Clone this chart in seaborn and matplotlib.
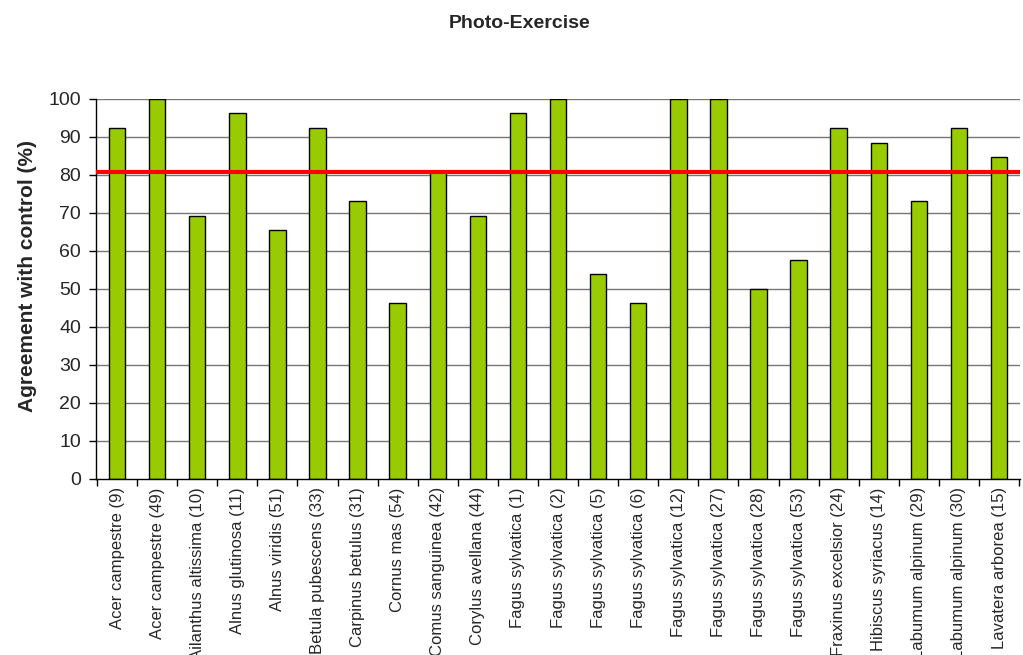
import matplotlib
matplotlib.use("Agg")
import matplotlib.pyplot as plt
import seaborn as sns
import pandas as pd

species = [
    "Acer campestre (9)", "Acer campestre (49)", "Ailanthus altissima (10)",
    "Alnus glutinosa (11)", "Alnus viridis (51)", "Betula pubescens (33)",
    "Carpinus betulus (31)", "Cornus mas (54)", "Comus sanguinea (42)",
    "Corylus avellana (44)", "Fagus sylvatica (1)", "Fagus sylvatica (2)",
    "Fagus sylvatica (5)", "Fagus sylvatica (6)", "Fagus sylvatica (12)",
    "Fagus sylvatica (27)", "Fagus sylvatica (28)", "Fagus sylvatica (53)",
    "Fraxinus excelsior (24)", "Hibiscus syriacus (14)", "Labumum alpinum (29)",
    "Labumum alpinum (30)", "Lavatera arborea (15)",
]
agreement = [
    92.3, 100.0, 69.2, 96.2, 65.4, 92.3, 73.1, 46.2, 80.8, 69.2, 96.2, 100.0,
    53.8, 46.2, 100.0, 100.0, 50.0, 57.7, 92.3, 88.5, 73.1, 92.3, 84.6,
]
threshold = 80.8
y_ticks = list(range(0, 101, 10))

sns.set_style("white")
plt.rcParams["font.family"] = ["Liberation Sans", "DejaVu Sans"]

df = pd.DataFrame({"species": species, "agreement": agreement})

fig = plt.figure(figsize=(10.23, 6.55), dpi=100)
ax = fig.add_axes([0.094, 0.269, 0.903, 0.58])

# horizontal grid behind the bars
for v in y_ticks[1:]:
    ax.axhline(v, color="#777777", lw=1.0, zorder=0)

sns.barplot(data=df, x="species", y="agreement", color="#99cc00",
            edgecolor="black", linewidth=1.0, width=0.41, saturation=1,
            ax=ax, zorder=2)

ax.axhline(threshold, color="#ff0000", lw=3, zorder=3)

ax.set_xlim(-0.52, len(species) - 0.48)
ax.set_ylim(0, 100)
ax.set_yticks(y_ticks)
ax.tick_params(axis="y", labelsize=14, length=5, width=1, direction="out",
               left=True, color="black", pad=6)

# category ticks sit between the bars
ax.set_xticks(range(len(species)))
ax.set_xticklabels(species, rotation=90, fontsize=12)
ax.tick_params(axis="x", which="major", length=0, pad=6)
ax.set_xticks([i + 0.5 for i in range(-1, len(species))], minor=True)
ax.tick_params(axis="x", which="minor", length=5, width=1, direction="out",
               bottom=True, color="black")

for s in ["top", "right"]:
    ax.spines[s].set_visible(False)
for s in ["left", "bottom"]:
    ax.spines[s].set_color("black")
    ax.spines[s].set_linewidth(1.0)

ax.set_xlabel("")
ax.set_ylabel("Agreement with control (%)", fontsize=15, fontweight="bold")
ax.yaxis.set_label_coords(-0.064, 0.535)
fig.text(0.508, 0.977, "Photo-Exercise", fontsize=14, fontweight="bold",
         ha="center", va="top")

fig.savefig("out.png", dpi=100, facecolor="white")
